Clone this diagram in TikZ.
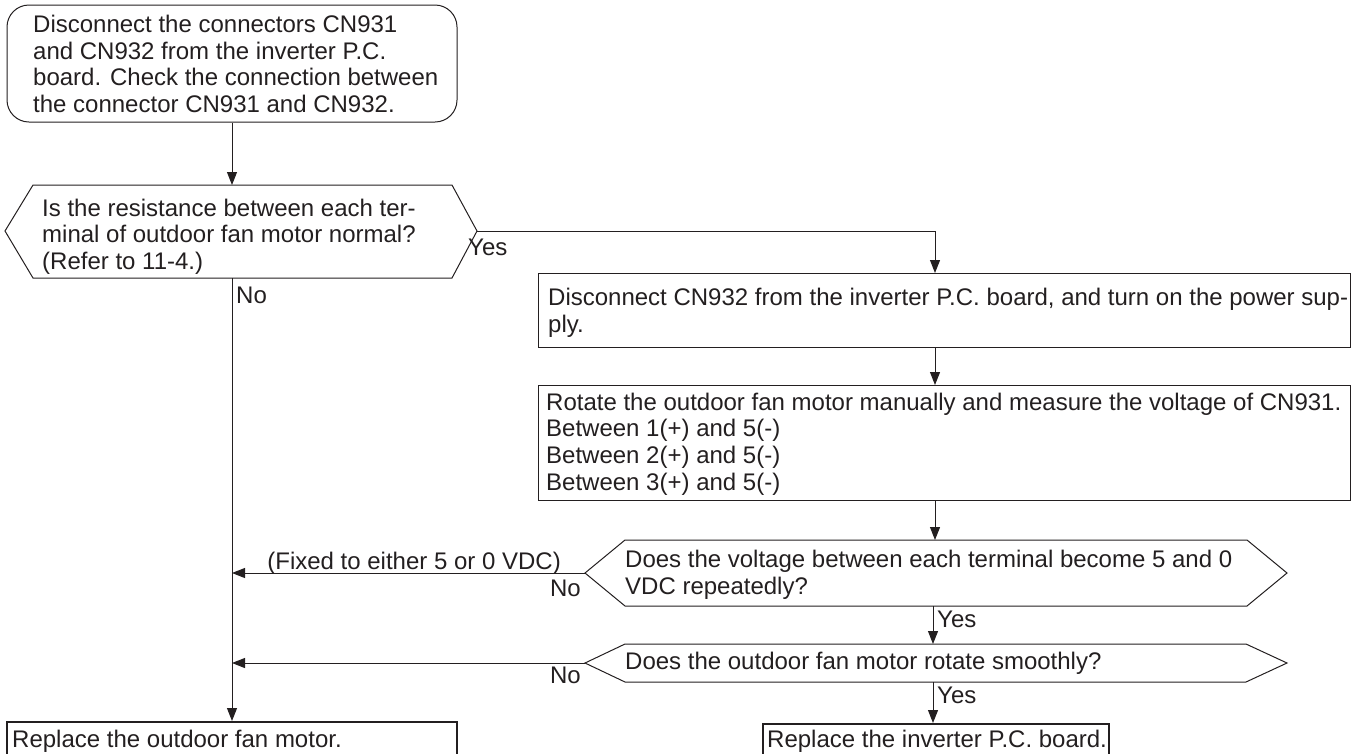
\documentclass[tikz,border=0pt]{standalone}
\usepackage{fontspec}
\setmainfont{Liberation Sans}
\usetikzlibrary{arrows.meta}
\definecolor{ink}{HTML}{231F20}
\begin{document}
\begin{tikzpicture}[x=1pt,y=-1pt,
  txt/.style={font=\fontsize{24}{26.6}\selectfont, text=ink, inner sep=0pt, align=left},
  lbl/.style={font=\fontsize{24}{26.6}\selectfont, text=ink, inner sep=0pt},
  line/.style={draw=ink, line width=1pt},
  arr/.style={line, -{Triangle[length=13pt,width=10pt]}},
  outline/.style={draw=ink, line width=1pt, inner sep=0pt},
  endbox/.style={draw=ink, line width=2pt, inner sep=0pt}]
\useasboundingbox (0,0) rectangle (1362,753);
\clip (0,0) rectangle (1362,753);

% start box
\node[outline, rounded corners=22pt, minimum width=450pt, minimum height=117pt] (s1) at (232,63.5) {};
\node[txt, anchor=west] (s1t) at (33,64) {Disconnect the connectors CN931\\and CN932 from the inverter P.C.\\board. Check the connection between\\the connector CN931 and CN932.};

% decision 1
\coordinate (q1w) at (5,231);
\coordinate (q1nw) at (33,185);
\coordinate (q1ne) at (452,185);
\coordinate (q1e) at (477,231);
\coordinate (q1se) at (452,278);
\coordinate (q1sw) at (33,278);
\coordinate (q1n) at (232,185);
\coordinate (q1s) at (232,278);
\draw[line] (q1w) -- (q1nw) -- (q1ne) -- (q1e) -- (q1se) -- (q1sw) -- cycle;
\node[txt, anchor=west] (q1t) at (42,236.5) {Is the resistance between each ter-\\minal of outdoor fan motor normal?\\(Refer to 11-4.)};

% box 2
\node[outline, anchor=north west, minimum width=812pt, minimum height=74pt] (b2) at (538,273) {};
\coordinate (b2n) at (935,273);
\coordinate (b2s) at (935,347);
\node[txt, anchor=west] (b2t) at (548,313) {Disconnect CN932 from the inverter P.C. board, and turn on the power sup-\\ply.};

% box 3
\node[outline, anchor=north west, minimum width=812pt, minimum height=115pt] (b3) at (538,385) {};
\coordinate (b3n) at (935,385);
\coordinate (b3s) at (935,500);
\node[txt, anchor=west] (b3t) at (546,444) {Rotate the outdoor fan motor manually and measure the voltage of CN931.\\Between 1(+) and 5(-)\\Between 2(+) and 5(-)\\Between 3(+) and 5(-)};

% decision 2
\coordinate (q2w) at (585,573);
\coordinate (q2nw) at (625,540);
\coordinate (q2ne) at (1247,540);
\coordinate (q2e) at (1287,573);
\coordinate (q2se) at (1247,606);
\coordinate (q2sw) at (625,606);
\coordinate (q2n) at (935,540);
\coordinate (q2s) at (933,606);
\draw[line] (q2w) -- (q2nw) -- (q2ne) -- (q2e) -- (q2se) -- (q2sw) -- cycle;
\node[txt, anchor=west] (q2t) at (625,575) {Does the voltage between each terminal become 5 and 0\\VDC repeatedly?};

% decision 3
\coordinate (q3w) at (585,663);
\coordinate (q3nw) at (625,644);
\coordinate (q3ne) at (1246,644);
\coordinate (q3e) at (1287,663);
\coordinate (q3se) at (1246,682);
\coordinate (q3sw) at (625,682);
\coordinate (q3n) at (933,644);
\coordinate (q3s) at (933,682);
\draw[line] (q3w) -- (q3nw) -- (q3ne) -- (q3e) -- (q3se) -- (q3sw) -- cycle;
\node[txt, anchor=west] (q3t) at (625,663) {Does the outdoor fan motor rotate smoothly?};

% end boxes
\node[endbox, anchor=north west, minimum width=450pt, minimum height=60pt] (e1) at (6,721) {};
\coordinate (e1n) at (232,721);
\node[lbl, anchor=base west] (e1t) at (12,747) {Replace the outdoor fan motor.};
\node[endbox, anchor=north west, minimum width=346pt, minimum height=60pt] (e2) at (762,723) {};
\coordinate (e2n) at (933,723);
\node[lbl, anchor=base west] (e2t) at (767,747) {Replace the inverter P.C. board.};

% junctions
\coordinate (j2) at (232,573);
\coordinate (j3) at (232,663);

% connectors
\draw[arr] (s1.south) -- (q1n);
\draw[arr] (q1e) -| (b2n);
\draw[arr] (b2s) -- (b3n);
\draw[arr] (b3s) -- (q2n);
\draw[arr] (q2s) -- (q3n);
\draw[arr] (q3s) -- (e2n);
\draw[arr] (q1s) -- (e1n);
\draw[arr] (q2w) -- (j2);
\draw[arr] (q3w) -- (j3);

% labels
\node[lbl, anchor=base west] (yes1) at (468,255) {Yes};
\node[lbl, anchor=base west] (no1) at (236,303) {No};
\node[lbl, anchor=base east] (fix) at (561,569) {(Fixed to either 5 or 0 VDC)};
\node[lbl, anchor=base east] (no2) at (581,596) {No};
\node[lbl, anchor=base west] (yes2) at (937,627) {Yes};
\node[lbl, anchor=base east] (no3) at (581,683) {No};
\node[lbl, anchor=base west] (yes3) at (937,703) {Yes};
\end{tikzpicture}
\end{document}
